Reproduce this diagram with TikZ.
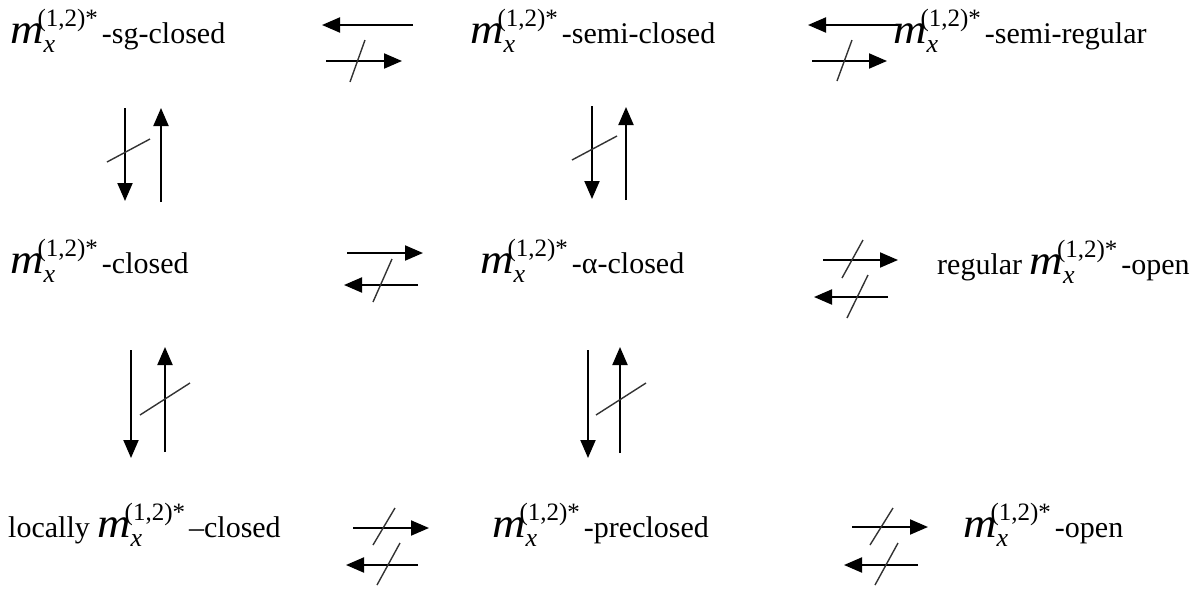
\documentclass[tikz,border=0pt]{standalone}
\usepackage{fontspec}
\setmainfont{Liberation Serif}
\usetikzlibrary{arrows.meta}
\newcommand\mxx{\scalebox{1.1}[1]{\fontsize{42}{42}\selectfont\itshape m}\hspace{-6pt}\rlap{\hspace{6pt}\raisebox{-9pt}{\fontsize{26}{26}\selectfont\itshape x}}\raisebox{17pt}{\fontsize{25}{25}\selectfont (1,2)*}\hspace{4pt}}
\begin{document}
\begin{tikzpicture}[x=1pt,y=-1pt,
  lbl/.style={anchor=base west, inner sep=0pt, font=\fontsize{30}{34}\selectfont},
  arr/.style={line width=2pt, -{Triangle[length=18pt,width=15pt]}},
  slash/.style={line width=1.4pt, black!80}]
\useasboundingbox (0,0) rectangle (1195,590);
% labels
\node[lbl] (n11) at (10,43) {\mxx-sg-closed};
\node[lbl] (n12) at (470,43) {\mxx-semi-closed};
\node[lbl] (n13) at (893,43) {\mxx-semi-regular};
\node[lbl] (n21) at (10,273) {\mxx-closed};
\node[lbl] (n22) at (480,273) {\mxx-α-closed};
\node[lbl] (n23) at (937,274) {regular \mxx-open};
\node[lbl] (n31) at (8,537) {locally \mxx–closed};
\node[lbl] (n32) at (492,537) {\mxx-preclosed};
\node[lbl] (n33) at (963,537) {\mxx-open};
% row 1 horizontal: col1-col2
\coordinate (a1s) at (413,25); \coordinate (a1e) at (322,25);
\coordinate (b1s) at (326,61); \coordinate (b1e) at (402,61);
\coordinate (s1a) at (350,82); \coordinate (s1b) at (365,40);
\draw[arr] (a1s) -- (a1e);
\draw[arr] (b1s) -- (b1e);
\draw[slash] (s1a) -- (s1b);
% row 1 horizontal: col2-col3
\coordinate (a2s) at (898,25); \coordinate (a2e) at (808,25);
\coordinate (b2s) at (812,61); \coordinate (b2e) at (887,61);
\coordinate (s2a) at (837,81); \coordinate (s2b) at (852,40);
\draw[arr] (a2s) -- (a2e);
\draw[arr] (b2s) -- (b2e);
\draw[slash] (s2a) -- (s2b);
% vertical col1 top
\coordinate (v1a) at (125,108); \coordinate (v1b) at (125,201);
\coordinate (v1c) at (161,202); \coordinate (v1d) at (161,108);
\coordinate (v1s) at (107,162); \coordinate (v1t) at (150,139);
\draw[arr] (v1a) -- (v1b);
\draw[arr] (v1c) -- (v1d);
\draw[slash] (v1s) -- (v1t);
% vertical col2 top
\coordinate (v2a) at (592,106); \coordinate (v2b) at (592,199);
\coordinate (v2c) at (626,200); \coordinate (v2d) at (626,107);
\coordinate (v2s) at (572,160); \coordinate (v2t) at (617,136);
\draw[arr] (v2a) -- (v2b);
\draw[arr] (v2c) -- (v2d);
\draw[slash] (v2s) -- (v2t);
% row 2 horizontal col1-col2
\coordinate (c1s) at (347,253); \coordinate (c1e) at (423,253);
\coordinate (d1s) at (418,285); \coordinate (d1e) at (344,285);
\coordinate (t1a) at (373,302); \coordinate (t1b) at (392,259);
\draw[arr] (c1s) -- (c1e);
\draw[arr] (d1s) -- (d1e);
\draw[slash] (t1a) -- (t1b);
% row 2 horizontal col2-col3
\coordinate (c2s) at (823,260); \coordinate (c2e) at (898,260);
\coordinate (u2a) at (842,278); \coordinate (u2b) at (863,240);
\coordinate (d2s) at (888,297); \coordinate (d2e) at (814,297);
\coordinate (t2a) at (847,318); \coordinate (t2b) at (868,275);
\draw[arr] (c2s) -- (c2e);
\draw[slash] (u2a) -- (u2b);
\draw[arr] (d2s) -- (d2e);
\draw[slash] (t2a) -- (t2b);
% vertical col1 bottom
\coordinate (w1a) at (131,350); \coordinate (w1b) at (131,458);
\coordinate (w1c) at (165,452); \coordinate (w1d) at (165,347);
\coordinate (w1s) at (140,415); \coordinate (w1t) at (190,383);
\draw[arr] (w1a) -- (w1b);
\draw[arr] (w1c) -- (w1d);
\draw[slash] (w1s) -- (w1t);
% vertical col2 bottom
\coordinate (w2a) at (588,350); \coordinate (w2b) at (588,458);
\coordinate (w2c) at (620,453); \coordinate (w2d) at (620,347);
\coordinate (w2s) at (596,415); \coordinate (w2t) at (646,383);
\draw[arr] (w2a) -- (w2b);
\draw[arr] (w2c) -- (w2d);
\draw[slash] (w2s) -- (w2t);
% row 3 horizontal col1-col2
\coordinate (e1s) at (353,528); \coordinate (e1e) at (429,528);
\coordinate (x1a) at (373,545); \coordinate (x1b) at (395,508);
\coordinate (f1s) at (418,565); \coordinate (f1e) at (346,565);
\coordinate (y1a) at (377,585); \coordinate (y1b) at (400,543);
\draw[arr] (e1s) -- (e1e);
\draw[slash] (x1a) -- (x1b);
\draw[arr] (f1s) -- (f1e);
\draw[slash] (y1a) -- (y1b);
% row 3 horizontal col2-col3
\coordinate (e2s) at (852,527); \coordinate (e2e) at (928,527);
\coordinate (x2a) at (870,545); \coordinate (x2b) at (893,508);
\coordinate (f2s) at (918,565); \coordinate (f2e) at (844,565);
\coordinate (y2a) at (875,585); \coordinate (y2b) at (898,543);
\draw[arr] (e2s) -- (e2e);
\draw[slash] (x2a) -- (x2b);
\draw[arr] (f2s) -- (f2e);
\draw[slash] (y2a) -- (y2b);
\end{tikzpicture}
\end{document}
